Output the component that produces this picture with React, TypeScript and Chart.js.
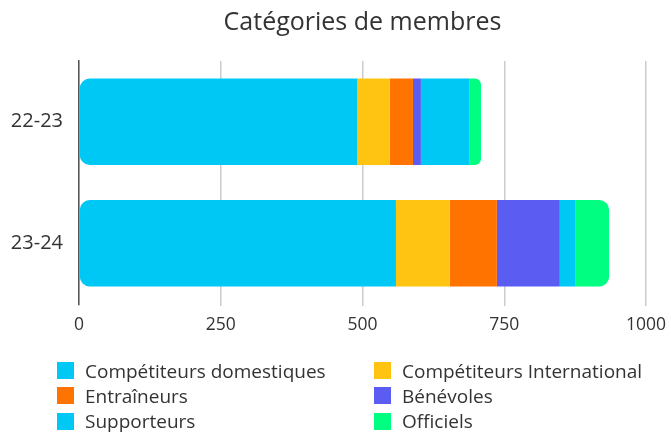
import React, { useEffect, useRef } from 'react';
import { Chart, registerables } from 'chart.js';

Chart.register(...registerables);

const categories = ['22-23', '23-24'];
const seriesNames = [
  'Compétiteurs domestiques',
  'Compétiteurs International',
  'Entraîneurs',
  'Bénévoles',
  'Supporteurs',
  'Officiels',
];
const domestiques = [491, 559];
const international = [57, 95];
const entraineurs = [41, 83];
const benevoles = [14, 111];
const supporteurs = [85, 28];
const officiels = [21, 59];
const seriesColors = ['#00C8F4', '#FFC312', '#FF7400', '#5B5CF2', '#00C8F4', '#00FF80'];
const xTicks = [0, 250, 500, 750, 1000];
const chartTitle = 'Catégories de membres';

const FONT = '"Open Sans", Lato, sans-serif';
const TEXT = '#333333';
const R = 10;

export default function App() {
  const ref = useRef<HTMLCanvasElement>(null);

  useEffect(() => {
    const values = [domestiques, international, entraineurs, benevoles, supporteurs, officiels];
    const n = values.length;
    const chart = new Chart(ref.current!, {
      type: 'bar',
      data: {
        labels: categories,
        datasets: values.map((v, i) => ({
          label: seriesNames[i],
          data: v,
          backgroundColor: seriesColors[i],
          borderWidth: 0,
          borderSkipped: false,
          borderRadius:
            i === 0
              ? { topLeft: R, bottomLeft: R, topRight: 0, bottomRight: 0 }
              : i === n - 1
              ? { topLeft: 0, bottomLeft: 0, topRight: R, bottomRight: R }
              : 0,
          barPercentage: 0.89,
          categoryPercentage: 0.8,
        })),
      },
      options: {
        indexAxis: 'y',
        animation: false,
        responsive: false,
        events: [],
        layout: { padding: { left: 0, right: 25, top: 0, bottom: 101 } },
        plugins: {
          legend: { display: false },
          tooltip: { enabled: false },
          title: {
            display: true,
            fullSize: false,
            text: chartTitle,
            color: TEXT,
            font: { family: FONT, size: 25, weight: 'normal' },
            padding: { top: 8, bottom: 23 },
          },
        },
        scales: {
          x: {
            stacked: true,
            min: 0,
            max: 1000,
            afterBuildTicks: (s: any) => {
              s.ticks = xTicks.map((v) => ({ value: v }));
            },
            afterFit: (s: any) => {
              s.height = 30;
              s.paddingRight = 0;
              s.paddingLeft = 0;
            },
            grid: { color: '#cccccc', lineWidth: 1.5, tickLength: 2, drawTicks: true },
            border: { display: false },
            ticks: {
              color: TEXT,
              font: { family: FONT, size: 17.5 },
              padding: 9,
              callback: (v: any) => String(v),
            },
          },
          y: {
            stacked: true,
            afterFit: (s: any) => {
              s.width = 79;
            },
            grid: { display: false, drawTicks: false },
            border: { display: true, color: '#555555', width: 1.5 },
            ticks: { color: TEXT, font: { family: FONT, size: 20 }, padding: 16 },
          },
        },
      } as any,
    });
    return () => chart.destroy();
  }, []);

  return (
    <div style={{ position: 'fixed', left: 0, top: 0, width: 671, height: 435, background: '#fff' }}>
      <canvas ref={ref} width={671} height={435} style={{ display: 'block' }} />
      {seriesNames.map((name, i) => {
        const col = i % 2;
        const row = Math.floor(i / 2);
        return (
          <div
            key={name}
            style={{
              position: 'absolute',
              left: col === 0 ? 57 : 374,
              top: 362 + row * 25.3,
              height: 17,
              display: 'flex',
              alignItems: 'center',
              whiteSpace: 'nowrap',
              fontFamily: FONT,
              fontSize: 19,
              color: TEXT,
            }}
          >
            <span style={{ display: 'inline-block', width: 17, height: 17, background: seriesColors[i], marginRight: 11, flex: 'none' }} />
            <span>{name}</span>
          </div>
        );
      })}
    </div>
  );
}
